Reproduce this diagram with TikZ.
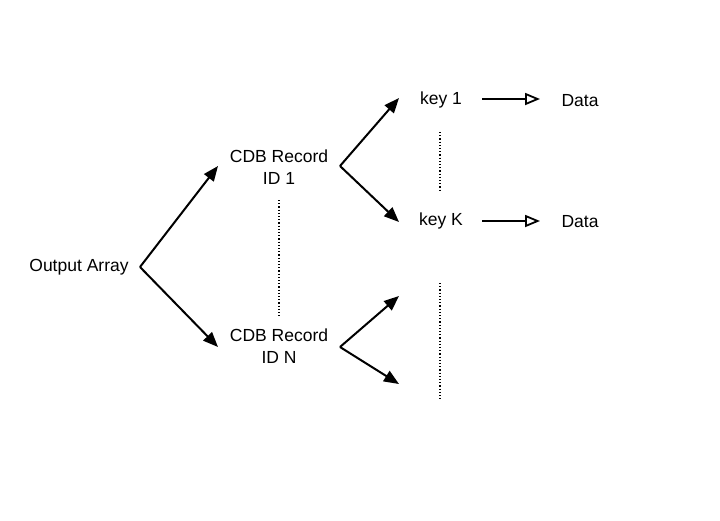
\documentclass[tikz,border=0pt]{standalone}
\usepackage{fontspec}
\setmainfont{Liberation Sans}
\usetikzlibrary{arrows.meta}
\begin{document}
\begin{tikzpicture}[x=1pt,y=-1pt,
  lbl/.style={font=\fontsize{17.5}{22}\selectfont, align=center, inner sep=0pt},
  arr/.style={line width=2pt, -{Triangle[length=15pt,width=12pt]}},
  oarr/.style={line width=2pt, -{Triangle[open,length=15pt,width=12pt,line width=1.8pt]}},
  dots/.style={dotted, line width=1.2pt}]
\useasboundingbox (0,0) rectangle (720,520);
\node[lbl] (out) at (79,267) {Output Array};
\node[lbl] (r1) at (279,167) {CDB Record\\ID 1};
\node[lbl] (rn) at (279,346) {CDB Record\\ID N};
\node[lbl] (k1) at (441,100) {key 1};
\node[lbl] (kk) at (441,221) {key K};
\node[lbl] (d1) at (580,101) {Data};
\node[lbl] (dk) at (580,222) {Data};
\coordinate (v0) at (140,267);
\coordinate (v1) at (340,166);
\coordinate (vn) at (340,347);
\coordinate (r1in) at (218,166);
\coordinate (rnin) at (218,347);
\coordinate (k1in) at (399,98);
\coordinate (kkin) at (399,222);
\coordinate (na) at (399,296);
\coordinate (nb) at (399,384);
\coordinate (a1s) at (482,99);
\coordinate (a1e) at (540,99);
\coordinate (aks) at (482,221);
\coordinate (ake) at (540,221);
\draw[arr] (v0) -- (r1in);
\draw[arr] (v0) -- (rnin);
\draw[arr] (v1) -- (k1in);
\draw[arr] (v1) -- (kkin);
\draw[arr] (vn) -- (na);
\draw[arr] (vn) -- (nb);
\draw[oarr] (a1s) -- (a1e);
\draw[oarr] (aks) -- (ake);
\coordinate (dA1) at (279,200);
\coordinate (dA2) at (279,318);
\coordinate (dB1) at (440,132);
\coordinate (dB2) at (440,192);
\coordinate (dC1) at (440,283);
\coordinate (dC2) at (440,400);
\draw[dots] (dA1) -- (dA2);
\draw[dots] (dB1) -- (dB2);
\draw[dots] (dC1) -- (dC2);
\end{tikzpicture}
\end{document}
